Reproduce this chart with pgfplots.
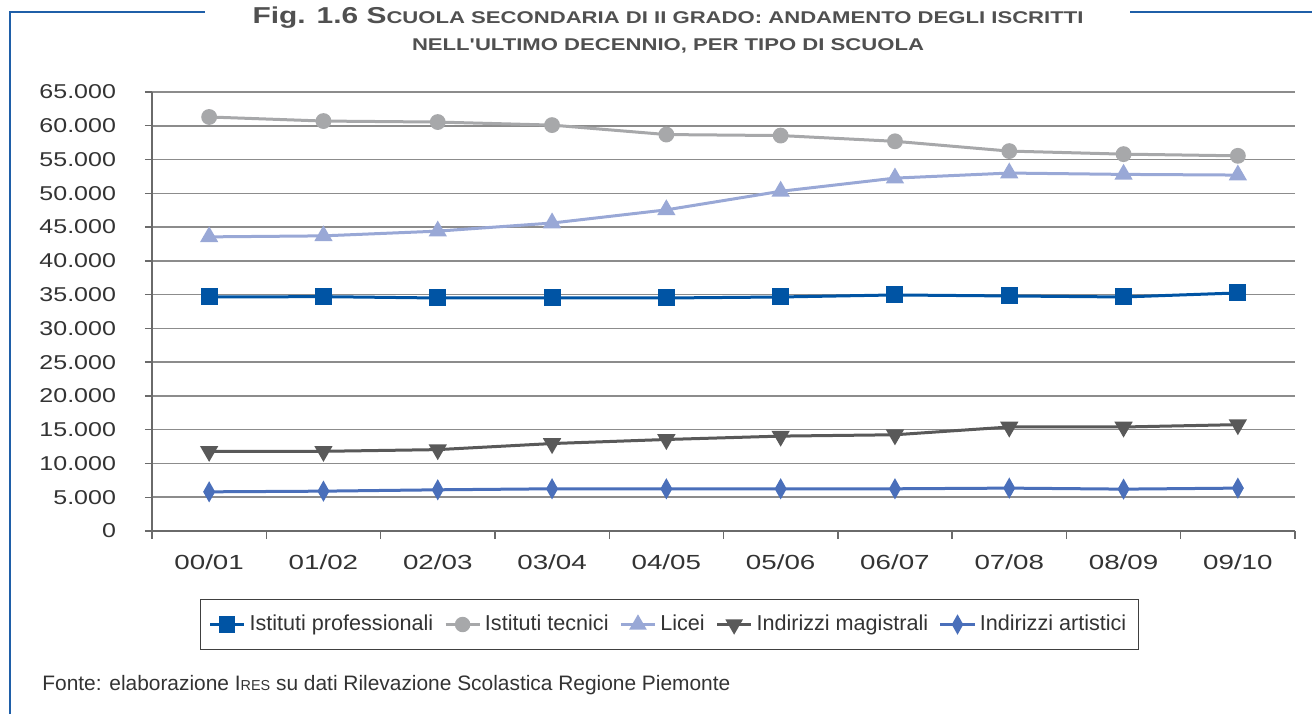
\documentclass[border=0pt]{standalone}
\usepackage{fontspec}
\setmainfont{Liberation Sans}
\newfontfamily\numfont[FakeStretch=1.25]{Liberation Sans}
\newfontfamily\xnumfont[FakeStretch=1.36]{Liberation Sans}
\newfontfamily\titlefont[FakeStretch=1.3]{Liberation Sans}
\usepackage{pgfplots}
\pgfplotsset{compat=1.18}
\definecolor{frameblue}{HTML}{1F5FA8}
\definecolor{cprof}{HTML}{0054A4}
\definecolor{ctec}{HTML}{A7A8AA}
\definecolor{clic}{HTML}{99A8D6}
\definecolor{cmag}{HTML}{595959}
\definecolor{cart}{HTML}{4A6FBA}
\definecolor{gridc}{HTML}{8C8C8C}
\definecolor{axc}{HTML}{6A6A6A}
\definecolor{txt}{HTML}{333333}
\definecolor{ttxt}{HTML}{505050}
\newcommand\tsc[1]{{\fontsize{8.5}{9}\selectfont #1}}
\newcommand\fsc[1]{{\fontsize{7.2}{8}\selectfont #1}}
\begin{document}
\begin{tikzpicture}
\path[use as bounding box] (0pt,0pt) rectangle (656pt,357pt);
% frame
\draw[frameblue, line width=1.3pt] (5pt,0pt) -- (5pt,351pt) -- (102.5pt,351pt);
\draw[frameblue, line width=1.3pt] (565pt,351pt) -- (656pt,351pt);
% title
\node[align=center, text=ttxt, font=\titlefont\bfseries\fontsize{11.5}{13.5}\selectfont, anchor=center] at (334pt,342pt)
 {Fig. 1.6 S\tsc{CUOLA SECONDARIA DI II GRADO: ANDAMENTO DEGLI ISCRITTI}\\ \tsc{NELL'ULTIMO DECENNIO, PER TIPO DI SCUOLA}};
\begin{axis}[
  at={(76pt,91.5pt)}, anchor=south west,
  scale only axis, width=571.5pt, height=219.5pt,
  xmin=-0.5, xmax=9.5, ymin=0, ymax=65000,
  axis x line*=bottom, axis y line*=left,
  axis line style={axc, line width=0.8pt},
  xtick={0,...,9},
  xticklabels={00/01,01/02,02/03,03/04,04/05,05/06,06/07,07/08,08/09,09/10},
  minor xtick={-0.5,0.5,...,9.5},
  tick align=outside,
  major x tick style={draw=none},
  minor tick length=4pt,
  minor x tick style={axc, line width=0.7pt},
  ytick={0,5000,...,65000},
  major tick length=3.5pt,
  major y tick style={axc, line width=0.7pt},
  ymajorgrids, grid style={gridc, line width=0.75pt},
  scaled y ticks=false,
  /pgf/number format/.cd, 1000 sep={.}, assume math mode=true,
  /pgfplots/.cd,
  yticklabel style={font=\numfont\fontsize{10}{12}\selectfont, text=txt, xshift=-11pt},
  xticklabel style={font=\xnumfont\fontsize{10.2}{12}\selectfont, text=txt, yshift=-5pt},
  legend style={at={(axis description cs:0.4528,-0.213)}, anchor=center,
    draw=black!75, line width=0.6pt, font=\fontsize{10.8}{12}\selectfont, text=txt,
    inner xsep=4pt, inner ysep=6pt, /tikz/every even column/.append style={column sep=3.5pt}},
  legend columns=5,
  legend image post style={line width=1.3pt},
  every axis plot/.append style={line width=1.5pt},
]
\addplot[cprof, mark=square*, mark size=3.5pt, mark options={solid, fill=cprof}] coordinates {
 (0,34650) (1,34700) (2,34500) (3,34500) (4,34500) (5,34650) (6,34950) (7,34800) (8,34650) (9,35250)};
\addlegendentry{Istituti professionali}
\addplot[ctec, mark=*, mark size=3.2pt, mark options={fill=ctec}] coordinates {
 (0,61300) (1,60700) (2,60550) (3,60100) (4,58700) (5,58550) (6,57700) (7,56250) (8,55800) (9,55550)};
\addlegendentry{Istituti tecnici}
\addplot[clic, mark=triangle*, mark size=3.8pt, mark options={fill=clic}] coordinates {
 (0,43550) (1,43700) (2,44400) (3,45600) (4,47550) (5,50300) (6,52250) (7,53000) (8,52800) (9,52700)};
\addlegendentry{Licei}
\addplot[cmag, mark=triangle*, mark size=3.8pt, mark options={fill=cmag, rotate=180}] coordinates {
 (0,11800) (1,11800) (2,12050) (3,12950) (4,13550) (5,14050) (6,14250) (7,15400) (8,15400) (9,15750)};
\addlegendentry{Indirizzi magistrali}
\addplot[cart, mark=diamond*, mark size=3.8pt, mark options={fill=cart, xscale=0.75}] coordinates {
 (0,5800) (1,5900) (2,6100) (3,6250) (4,6250) (5,6250) (6,6250) (7,6350) (8,6200) (9,6350)};
\addlegendentry{Indirizzi artistici}
\end{axis}
% source
\node[anchor=west, text=txt, font=\fontsize{10.45}{12}\selectfont, inner sep=0pt] at (21pt,14.5pt)
 {Fonte: elaborazione I\fsc{RES} su dati Rilevazione Scolastica Regione Piemonte};
\end{tikzpicture}
\end{document}
